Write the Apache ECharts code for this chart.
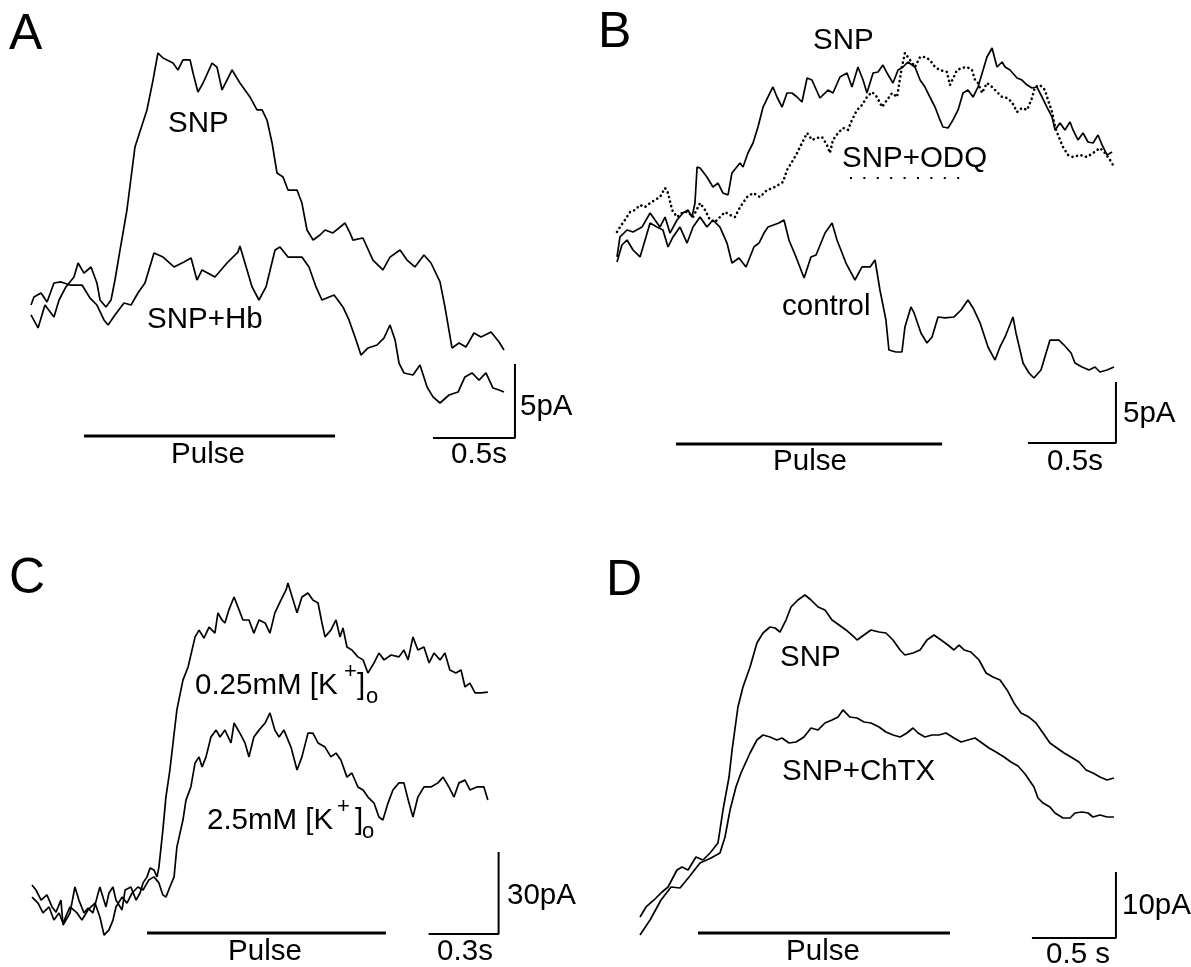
<!DOCTYPE html>
<html>
<head>
<meta charset="utf-8">
<script src="https://cdn.jsdelivr.net/npm/echarts@6/dist/echarts.min.js"></script>
<style>
  html, body { margin: 0; padding: 0; background: #fff; }
  #chart { width: 1191px; height: 967px; }
</style>
</head>
<body>
<div id="chart"></div>
<script>
// ---- Panel A (time in s, current in pA) ----
const aSnpT = [0,0.043,0.085,0.140,0.171,0.213,0.262,0.287,0.323,0.366,0.402,0.421,0.457,0.488,0.512,0.543,0.585,0.634,0.707,0.744,0.774,0.805,0.866,0.896,0.927,0.970,0.988,1.018,1.049,1.104,1.134,1.165,1.226,1.274,1.335,1.378,1.409,1.439,1.470,1.500,1.537,1.567,1.622,1.652,1.683,1.720,1.762,1.793,1.841,1.915,1.945,1.963,2.024,2.085,2.146,2.189,2.250,2.293,2.341,2.396,2.439,2.494,2.524,2.567,2.610,2.652,2.701,2.744,2.805,2.854,2.884]
const aSnpI = [8.45,7.57,9.12,8.31,9.46,10.34,11.01,11.96,11.28,11.69,10.61,9.46,8.99,9.46,10.81,12.84,15.54,19.80,22.30,24.32,26.15,25.81,25.47,25.00,25.68,25.68,24.80,23.51,24.12,25.47,25.20,23.65,25.00,24.12,23.18,22.30,22.30,21.62,20.07,18.04,17.77,16.89,16.89,16.01,14.19,13.51,13.85,14.19,13.99,14.66,13.99,13.51,13.65,12.16,11.49,12.36,12.84,12.16,11.69,12.50,11.96,10.68,8.99,6.22,6.55,6.28,7.23,6.96,7.30,6.62,6.08]
const aHbT = [0,0.018,0.061,0.098,0.140,0.183,0.238,0.311,0.360,0.402,0.445,0.470,0.512,0.567,0.610,0.652,0.695,0.750,0.805,0.872,0.933,0.976,1.012,1.043,1.122,1.195,1.262,1.274,1.348,1.390,1.433,1.488,1.518,1.567,1.652,1.695,1.738,1.774,1.848,1.902,1.939,1.982,2.012,2.055,2.110,2.152,2.189,2.220,2.244,2.274,2.329,2.372,2.415,2.451,2.494,2.549,2.604,2.646,2.689,2.732,2.774,2.817,2.854,2.884]
const aHbI = [9.12,9.66,9.93,9.32,10.61,10.68,10.47,10.47,9.59,9.12,8.11,7.77,8.45,9.26,9.12,9.93,10.61,12.64,12.36,11.69,12.03,12.30,10.81,11.49,11.01,11.96,12.70,13.11,10.34,9.46,10.34,12.84,13.04,12.36,12.36,11.69,10.34,9.46,9.80,8.99,8.11,6.76,5.74,6.22,6.42,6.89,7.77,6.76,5.20,4.53,4.39,5.07,3.58,2.91,2.50,3.04,3.24,4.26,4.53,4.05,4.53,3.51,3.38,3.24]

// ---- Panel B ----
const bSnpT = [0,0.017,0.057,0.091,0.142,0.188,0.216,0.244,0.273,0.301,0.341,0.375,0.403,0.426,0.443,0.455,0.472,0.511,0.545,0.574,0.602,0.631,0.653,0.699,0.716,0.744,0.773,0.801,0.830,0.869,0.886,0.909,0.938,0.966,0.994,1.023,1.051,1.080,1.108,1.153,1.199,1.227,1.267,1.307,1.335,1.369,1.398,1.420,1.455,1.483,1.511,1.534,1.568,1.597,1.625,1.653,1.693,1.722,1.750,1.778,1.807,1.835,1.852,1.881,1.909,1.938,1.966,1.994,2.023,2.051,2.080,2.102,2.131,2.159,2.188,2.205,2.233,2.273,2.301,2.330,2.358,2.386,2.415,2.443,2.472,2.489,2.517,2.545,2.574,2.591,2.619,2.648,2.676,2.705,2.733,2.756,2.784,2.813]
const bSnpI = [15.25,16.89,17.46,17.30,17.70,18.85,18.28,17.70,18.52,17.21,18.28,18.85,19.10,18.52,19.67,22.62,22.54,21.80,20.98,21.31,20.49,20.33,22.13,22.95,22.62,23.77,24.59,25.90,27.54,28.69,29.18,28.36,27.54,28.69,28.69,28.36,27.95,29.92,29.75,28.28,28.93,28.69,30.00,30.33,29.18,30.82,29.75,28.69,30.33,30.41,30.98,30.33,29.51,30.57,30.82,31.23,30.82,29.75,29.18,28.36,27.54,26.48,25.90,25.82,26.48,27.30,28.69,28.93,28.36,29.18,30.57,31.64,32.38,30.82,31.23,30.82,30.57,29.92,29.75,29.34,29.10,29.18,28.36,27.54,26.72,25.66,26.23,25.66,26.31,25.66,24.84,25.41,24.67,24.59,25.25,24.43,23.61,23.85]
const bOdqT = [0,0.017,0.045,0.074,0.102,0.131,0.159,0.188,0.216,0.244,0.273,0.290,0.313,0.341,0.375,0.403,0.432,0.472,0.500,0.528,0.557,0.585,0.614,0.642,0.670,0.699,0.739,0.773,0.813,0.852,0.886,0.915,0.943,0.966,0.994,1.023,1.051,1.080,1.108,1.136,1.165,1.193,1.210,1.227,1.256,1.284,1.312,1.335,1.364,1.392,1.420,1.449,1.477,1.506,1.534,1.563,1.591,1.619,1.636,1.665,1.693,1.722,1.750,1.778,1.807,1.835,1.875,1.892,1.932,1.960,1.989,2.017,2.034,2.051,2.074,2.102,2.131,2.159,2.188,2.216,2.244,2.273,2.301,2.330,2.358,2.375,2.403,2.432,2.449,2.472,2.489,2.506,2.534,2.563,2.591,2.631,2.670,2.705,2.744,2.773,2.801,2.818]
const bOdqI = [17.30,17.70,18.28,18.93,19.10,19.51,19.34,19.67,19.92,20.16,20.90,20.49,19.10,18.52,18.93,18.93,18.52,19.67,19.10,18.28,18.11,18.52,18.93,18.69,18.52,19.34,20.16,20.49,20.16,20.74,20.90,21.15,21.39,22.38,23.03,23.77,24.59,25.41,24.84,25.00,25.08,24.43,23.77,24.84,25.41,25.82,25.66,26.48,27.30,27.70,28.36,28.77,28.36,27.54,28.11,28.69,28.36,30.82,31.97,31.39,30.82,31.64,31.64,31.39,30.82,30.57,30.41,29.34,30.57,30.74,30.82,30.57,29.75,29.51,28.69,29.51,29.18,28.77,28.36,28.28,27.95,27.13,27.46,27.30,28.28,29.18,29.34,28.93,28.11,27.13,25.90,25.25,24.26,23.61,23.44,23.61,23.44,23.77,24.18,23.77,23.20,22.79]
const bCtlT = [0,0.028,0.057,0.091,0.131,0.188,0.227,0.261,0.290,0.318,0.358,0.398,0.432,0.472,0.511,0.545,0.585,0.625,0.653,0.693,0.733,0.778,0.807,0.835,0.858,0.920,0.949,0.977,1.017,1.063,1.102,1.131,1.182,1.222,1.250,1.301,1.352,1.392,1.438,1.466,1.494,1.528,1.545,1.585,1.619,1.636,1.670,1.688,1.727,1.761,1.790,1.824,1.864,1.915,1.955,1.994,2.023,2.063,2.108,2.148,2.176,2.205,2.250,2.267,2.307,2.341,2.369,2.409,2.438,2.460,2.511,2.540,2.580,2.602,2.642,2.682,2.716,2.744,2.784,2.824]
const bCtlI = [14.84,16.23,16.64,15.82,15.25,18.03,17.70,17.46,16.07,16.89,17.70,16.39,17.70,18.52,17.70,18.28,17.70,16.39,14.75,15.16,14.43,16.07,16.39,17.21,17.70,18.03,18.28,16.64,15.25,13.52,15.25,15.41,17.21,18.03,16.64,14.75,13.36,14.43,14.43,15.00,12.54,10.08,7.62,7.46,7.46,9.51,11.15,10.66,9.02,8.20,8.69,10.33,10.25,10.33,10.90,11.72,11.07,9.84,7.87,6.80,7.87,8.69,10.33,9.02,6.56,5.74,5.33,5.98,7.38,8.44,8.44,8.03,7.38,6.56,6.23,5.98,6.23,5.82,5.98,6.23]

// ---- Panel C ----
const cLowKT = [0,0.017,0.039,0.064,0.086,0.103,0.124,0.133,0.163,0.184,0.201,0.223,0.240,0.261,0.279,0.291,0.317,0.330,0.347,0.360,0.386,0.399,0.424,0.446,0.463,0.476,0.493,0.506,0.523,0.536,0.544,0.561,0.574,0.591,0.621,0.647,0.669,0.699,0.716,0.737,0.759,0.784,0.797,0.814,0.827,0.844,0.866,0.883,0.904,0.930,0.951,0.973,0.999,1.020,1.041,1.067,1.089,1.097,1.110,1.136,1.157,1.183,1.204,1.226,1.243,1.256,1.281,1.303,1.320,1.333,1.350,1.371,1.397,1.419,1.440,1.466,1.487,1.509,1.539,1.573,1.594,1.612,1.633,1.654,1.680,1.702,1.723,1.749,1.770,1.791,1.817,1.839,1.856,1.877,1.899,1.924,1.954]
const cLowKI = [17.9,16.1,12.4,14.3,9.9,8.0,12.4,3.3,7.7,17.2,12.4,7.7,9.5,7.7,13.5,17.2,9.9,15.0,17.2,12.4,8.8,16.1,17.2,12.4,15.0,18.7,20.9,24.1,23.4,20.9,24.5,38.1,50.1,60.0,82.0,92.9,97.7,108.7,111.2,108.3,112.3,110.1,117.5,114.9,113.8,118.6,123.3,119.6,114.9,114.9,110.1,114.9,113.8,110.1,117.5,122.2,125.9,128.4,124.8,117.5,123.3,124.8,122.2,121.1,113.8,108.7,111.2,114.9,108.7,112.0,105.0,103.9,101.4,100.3,95.5,99.2,102.8,100.3,102.1,101.4,103.9,100.3,108.7,103.9,105.0,99.2,102.8,100.3,102.8,96.6,95.5,96.6,90.4,91.8,88.2,88.2,88.5]
const cHighKT = [0,0.026,0.047,0.073,0.094,0.116,0.133,0.163,0.193,0.214,0.240,0.270,0.291,0.309,0.330,0.347,0.360,0.386,0.407,0.429,0.454,0.476,0.501,0.523,0.544,0.561,0.574,0.591,0.609,0.621,0.647,0.660,0.681,0.699,0.716,0.729,0.746,0.767,0.789,0.806,0.827,0.853,0.866,0.891,0.913,0.930,0.951,0.973,0.999,1.020,1.041,1.059,1.080,1.110,1.136,1.157,1.183,1.204,1.226,1.256,1.281,1.303,1.324,1.350,1.371,1.397,1.419,1.440,1.466,1.487,1.504,1.526,1.547,1.573,1.594,1.616,1.633,1.654,1.680,1.710,1.740,1.762,1.787,1.809,1.830,1.856,1.877,1.907,1.937,1.954]
const cHighKI = [13.5,11.3,7.7,9.9,5.1,7.7,4.0,9.9,7.7,5.1,8.8,11.3,6.2,-0.4,1.5,5.1,9.9,13.5,11.3,15.0,17.2,16.1,19.8,20.9,18.7,14.3,13.5,17.2,20.9,31.8,41.7,49.0,53.8,62.6,64.8,61.1,64.8,72.1,74.6,72.1,74.6,69.9,77.2,73.5,69.9,64.8,72.1,74.6,77.2,80.9,74.6,72.1,74.6,68.4,60.0,64.8,73.5,73.5,69.9,68.4,64.8,66.2,63.7,57.4,58.9,53.8,52.7,50.1,47.9,42.8,41.7,47.9,52.7,55.3,55.3,47.9,42.8,50.1,53.8,53.8,55.3,57.4,53.8,50.1,55.3,56.3,52.7,53.8,53.8,49.0]

// ---- Panel D ----
const dSnpT = [0,0.036,0.083,0.131,0.167,0.220,0.250,0.286,0.333,0.375,0.417,0.464,0.494,0.530,0.548,0.583,0.613,0.655,0.696,0.732,0.774,0.804,0.833,0.869,0.899,0.940,0.982,1.018,1.060,1.101,1.143,1.185,1.226,1.274,1.292,1.333,1.375,1.423,1.464,1.506,1.548,1.577,1.625,1.667,1.708,1.750,1.792,1.833,1.869,1.899,1.929,1.970,2.018,2.060,2.101,2.143,2.185,2.226,2.268,2.315,2.357,2.399,2.440,2.482,2.524,2.565,2.613,2.655,2.696,2.738,2.780,2.821]
const dSnpI = [3.18,4.70,5.76,6.97,7.73,10.30,10.76,10.30,12.27,11.82,12.88,14.39,19.39,24.39,28.48,35.00,38.03,41.06,44.70,46.21,47.12,46.97,46.36,48.18,50.15,51.21,51.97,51.21,50.15,49.70,48.18,47.42,46.67,45.61,45.15,45.91,46.67,46.36,46.21,45.15,43.64,42.88,43.18,43.64,45.15,45.91,45.15,44.39,43.64,44.39,43.64,43.33,42.12,40.15,39.55,39.09,37.58,35.61,34.09,33.48,32.58,31.06,29.55,28.79,28.03,27.42,26.67,25.45,25.00,24.39,23.94,24.24]
const dChtxT = [0,0.060,0.125,0.185,0.238,0.292,0.357,0.423,0.476,0.506,0.536,0.571,0.601,0.631,0.655,0.696,0.732,0.774,0.815,0.845,0.887,0.929,0.976,1.018,1.060,1.101,1.143,1.179,1.208,1.250,1.292,1.333,1.375,1.423,1.464,1.506,1.548,1.589,1.625,1.655,1.696,1.738,1.780,1.821,1.869,1.911,1.952,1.994,2.036,2.077,2.119,2.167,2.208,2.250,2.292,2.345,2.369,2.399,2.440,2.470,2.518,2.560,2.589,2.631,2.667,2.696,2.738,2.780,2.821]
const dChtxI = [0.45,2.73,5.76,7.73,7.58,9.24,11.36,12.12,12.88,15.30,19.39,22.88,25.00,26.67,28.03,30.00,30.76,30.45,30.00,30.30,29.55,29.70,30.45,31.82,31.52,32.58,33.03,33.48,34.55,33.48,33.33,32.73,32.58,31.97,31.21,30.76,30.45,31.06,31.82,31.06,30.45,30.76,30.76,31.06,30.30,29.70,30.00,30.30,29.55,28.79,28.18,27.42,26.67,26.06,24.85,22.88,21.21,20.45,19.85,18.94,18.18,18.18,18.94,19.09,18.94,18.33,18.64,18.33,18.33]

// scale bars and pulse timing (s, pA)
const scaleBarW = [0.5, 0.5, 0.3, 0.5]
const scaleBarH = [5, 5, 30, 10]
const pulseOn = [0.323, 0.335, 0.493, 0.345]
const pulseOff = [1.854, 1.847, 1.517, 1.845]

// panel layout: pixel frame + pixels per unit taken from the scale bars
const panels = [
  {x0: 31, x1: 520, top: 30, bottom: 448, yRef: 440, pxPerS: 164, pxPerPA: 14.8, sbT: 2.951, sbI: 0.14, pulseI: 0.27},
  {x0: 617, x1: 1120, top: 20, bottom: 452, yRef: 443, pxPerS: 176, pxPerPA: 12.2, sbT: 2.835, sbI: 0, pulseI: -0.08},
  {x0: 32, x1: 505, top: 555, bottom: 945, yRef: 934, pxPerS: 233.3, pxPerPA: 2.733, sbT: 2.0, sbI: 0, pulseI: 0.37},
  {x0: 640, x1: 1120, top: 570, bottom: 945, yRef: 938, pxPerS: 168, pxPerPA: 6.6, sbT: 2.833, sbI: 0, pulseI: 0.76},
]

const FONT = '"Liberation Sans", Arial, sans-serif'

const zip = (ts, vs) => ts.map((t, i) => [t, vs[i]])

const grids = panels.map(p => ({
  left: p.x0, top: p.top, width: p.x1 - p.x0, height: p.bottom - p.top,
}))
const xAxes = panels.map((p, i) => ({
  type: 'value', gridIndex: i, show: false, min: 0, max: (p.x1 - p.x0) / p.pxPerS,
}))
const yAxes = panels.map((p, i) => ({
  type: 'value', gridIndex: i, show: false,
  min: (p.yRef - p.bottom) / p.pxPerPA, max: (p.yRef - p.top) / p.pxPerPA,
}))

function trace (idx, data, extra) {
  return Object.assign({
    type: 'line', xAxisIndex: idx, yAxisIndex: idx, data,
    symbol: 'none', silent: true, animation: false,
    lineStyle: {color: '#000', width: 1.7},
  }, extra || {})
}

const series = [
  trace(0, zip(aSnpT, aSnpI)),
  trace(0, zip(aHbT, aHbI)),
  trace(1, zip(bSnpT, bSnpI)),
  trace(1, zip(bCtlT, bCtlI)),
  trace(1, zip(bOdqT, bOdqI), {
    lineStyle: {color: '#000', width: 2.6, type: [0.1, 4.6], cap: 'round'},
  }),
  trace(2, zip(cLowKT, cLowKI)),
  trace(2, zip(cHighKT, cHighKI)),
  trace(3, zip(dSnpT, dSnpI)),
  trace(3, zip(dChtxT, dChtxI)),
]

panels.forEach((p, i) => {
  series.push(trace(i, [
    [p.sbT - scaleBarW[i], p.sbI],
    [p.sbT, p.sbI],
    [p.sbT, p.sbI + scaleBarH[i]],
  ], {lineStyle: {color: '#000', width: 2}}))
  series.push(trace(i, [
    [pulseOn[i], p.pulseI],
    [pulseOff[i], p.pulseI],
  ], {lineStyle: {color: '#000', width: 3.2}}))
})

function txt (text, x, y, size, align) {
  return {
    type: 'text', x, y, silent: true,
    style: {
      text, fill: '#000', font: size + 'px ' + FONT,
      textAlign: align || 'left', textVerticalAlign: 'middle',
    },
  }
}

const L = 29.5
const graphic = [
  txt('A', 9, 35, 50), txt('B', 598, 33, 50), txt('C', 9, 579, 50), txt('D', 606, 581, 50),
  // A
  txt('SNP', 168, 124, L), txt('SNP+Hb', 147, 320, L),
  txt('Pulse', 208, 455, L, 'center'), txt('0.5s', 479, 455, L, 'center'), txt('5pA', 520, 407, L),
  // B
  txt('SNP', 813, 41, L), txt('SNP+ODQ', 842, 159, L), txt('control', 782, 307, L),
  txt('Pulse', 810, 462, L, 'center'), txt('0.5s', 1075, 462, L, 'center'), txt('5pA', 1123, 414, L),
  {
    type: 'line', silent: true,
    shape: {x1: 850, y1: 178, x2: 960, y2: 178},
    style: {stroke: '#000', lineWidth: 2, lineDash: [2, 11.4]},
  },
  // C
  txt('0.25mM [K', 195, 686, L), txt('+', 344, 672, 22), txt(']', 357, 686, L), txt('o', 366, 697, 22),
  txt('2.5mM [K', 207, 821, L), txt('+', 337, 807, 22), txt(']', 355, 821, L), txt('o', 362, 832, 22),
  txt('Pulse', 265, 952, L, 'center'), txt('0.3s', 465, 952, L, 'center'), txt('30pA', 507, 896, L),
  // D
  txt('SNP', 780, 658, L), txt('SNP+ChTX', 782, 772, L),
  txt('Pulse', 823, 952, L, 'center'), txt('0.5 s', 1078, 955, L, 'center'), txt('10pA', 1122, 906, L),
]

const chart = echarts.init(document.getElementById('chart'))
chart.setOption({
  animation: false,
  backgroundColor: '#fff',
  grid: grids,
  xAxis: xAxes,
  yAxis: yAxes,
  series,
  graphic,
})
</script>
</body>
</html>
